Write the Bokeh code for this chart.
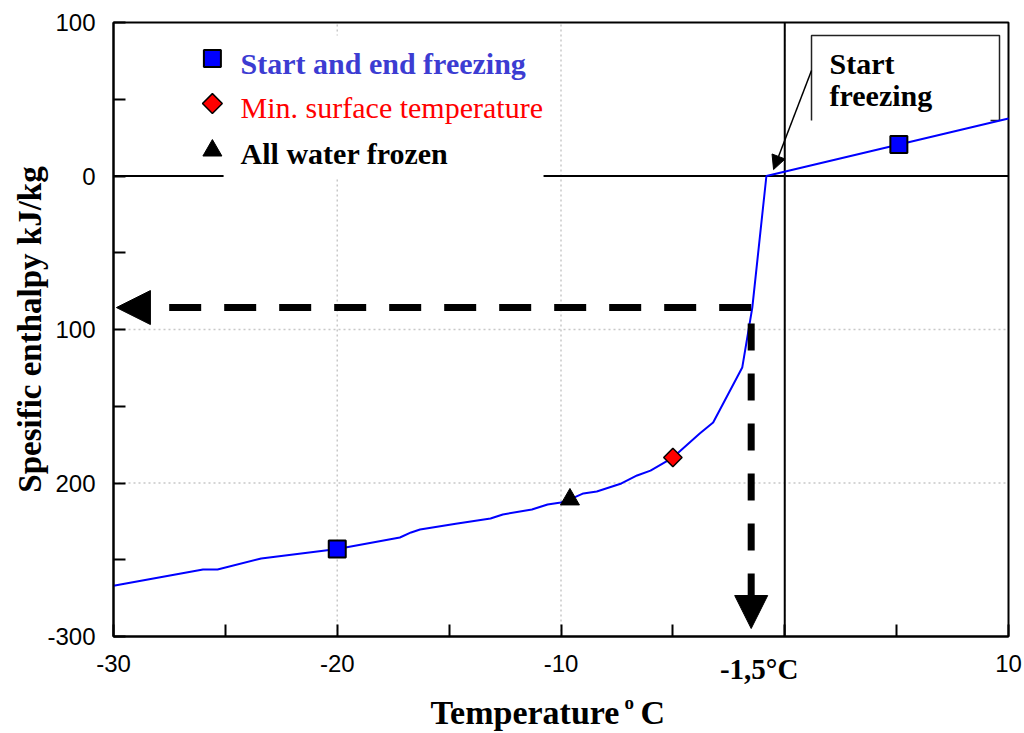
import math

from bokeh.embed import file_html
from bokeh.models import Arrow, FixedTicker, Label, LinearAxis, NormalHead
from bokeh.plotting import figure
from bokeh.resources import INLINE

# Enthalpy curve of the product during freezing
temperature = [-30.0, -26.0, -25.35, -23.4, -20.0, -17.2, -16.7, -16.3, -14.7, -13.15,
               -12.6, -11.3, -10.6, -10.0, -9.6, -9.0, -8.4, -7.3, -6.6, -6.0,
               -5.0, -3.8, -3.2, -1.9, -1.45, -0.82, 10.0]
enthalpy = [-267.0, -256.4, -256.4, -249.2, -243.0, -235.5, -232.2, -230.3, -226.5, -223.1,
            -220.5, -217.3, -214.0, -212.7, -210.7, -206.8, -205.5, -200.3, -195.1, -191.9,
            -183.4, -167.8, -160.6, -124.8, -85.7, 0.0, 37.5]

# Marked states
freeze_t = [-20.0, 5.1]
freeze_h = [-243.0, 20.5]
min_surface_t = [-5.0]
min_surface_h = [-183.4]
all_frozen_t = [-9.6]
all_frozen_h = [-210.7]

# Read-off construction
freeze_point_t = -1.5
freeze_point_h = -85.7

# Axes
x_lim = (-30, 10)
y_lim = (-300, 100)
x_ticks = [-30, -20, -10, 0, 10]
x_minor = [-25, -15, -5, 5]
x_tick_labels = ["-30", "-20", "-10", "", "10"]
y_ticks = [-300, -200, -100, 0, 100]
y_minor = [-250, -150, -50, 50]
y_tick_labels = ["-300", "200", "100", "0", "100"]

legend_labels = ["Start and end freezing", "Min. surface temperature", "All water frozen"]

SERIF = "Liberation Serif"
SANS = "Liberation Sans"

# Canvas and the pixel box the axes enclose
W, H = 1024, 733
BOX_L, BOX_R, BOX_T, BOX_B = 113, 1008, 22, 636
kx = (x_lim[1] - x_lim[0]) / (BOX_R - BOX_L)
ky = (y_lim[1] - y_lim[0]) / (BOX_B - BOX_T)
x_range = (x_lim[0] - BOX_L * kx, x_lim[1] + (W - BOX_R) * kx)
y_range = (y_lim[0] - (H - BOX_B) * ky, y_lim[1] + BOX_T * ky)

p = figure(width=W, height=H, x_range=x_range, y_range=y_range,
           x_axis_location=None, y_axis_location=None,
           output_backend="svg", toolbar_location=None)
p.min_border = 0
p.background_fill_color = "white"
p.border_fill_color = "white"
p.outline_line_color = None
p.grid.visible = False


def style_axis(ax):
    ax.axis_line_width = 2
    ax.axis_line_color = "black"
    ax.major_tick_in = 12
    ax.major_tick_out = 0
    ax.minor_tick_in = 12
    ax.minor_tick_out = 0
    ax.major_tick_line_width = 2
    ax.minor_tick_line_width = 2
    ax.major_tick_line_color = "black"
    ax.minor_tick_line_color = "black"
    ax.major_label_text_font = SANS
    ax.major_label_text_font_size = "24px"
    ax.major_label_text_color = "black"
    ax.major_label_standoff = 18


xaxis = LinearAxis(fixed_location=y_lim[0], bounds=x_lim,
                   ticker=FixedTicker(ticks=x_ticks, minor_ticks=x_minor),
                   major_label_overrides=dict(zip(x_ticks, x_tick_labels)))
yaxis = LinearAxis(fixed_location=x_lim[0], bounds=y_lim,
                   ticker=FixedTicker(ticks=y_ticks, minor_ticks=y_minor),
                   major_label_overrides=dict(zip(y_ticks, y_tick_labels)))
style_axis(xaxis)
style_axis(yaxis)
p.add_layout(xaxis, "below")
p.add_layout(yaxis, "left")

# Dotted grid inside the box
gx = [t for t in x_ticks if x_lim[0] < t < x_lim[1]]
gy = [t for t in y_ticks if y_lim[0] < t < y_lim[1]]
p.segment(x0=gx, y0=[y_lim[0]] * len(gx), x1=gx, y1=[y_lim[1]] * len(gx),
          line_color="#c8c8c8", line_dash="2 3", line_width=1.5)
p.segment(x0=[x_lim[0]] * len(gy), y0=gy, x1=[x_lim[1]] * len(gy), y1=gy,
          line_color="#c8c8c8", line_dash="2 3", line_width=1.5)

# Box around the plot area
p.quad(left=[x_lim[0]], right=[x_lim[1]], bottom=[y_lim[0]], top=[y_lim[1]],
       fill_color=None, line_color="black", line_width=2)

# Reference lines at 0 °C and 0 kJ/kg
p.segment(x0=[x_lim[0]], y0=[0], x1=[x_lim[1]], y1=[0], line_color="black", line_width=2)
p.segment(x0=[0], y0=[y_lim[0]], x1=[0], y1=[y_lim[1]], line_color="black", line_width=2)

# Legend panel background
p.quad(left=[-25.08], right=[-10.78], bottom=[-1.0], top=[91.5],
       fill_color="white", line_color=None)

# Callout box
p.quad(left=[1.196], right=[9.598], bottom=[36.2], top=[91.5],
       fill_color="white", line_color=None)
p.multi_line(xs=[[1.196, 1.196, 9.598, 9.598], [9.196, 9.598]],
             ys=[[36.2, 91.5, 91.5, 36.2], [36.2, 36.2]],
             line_color="#222222", line_width=1.5)

# Curve
p.line(temperature, enthalpy, line_color="#0000ff", line_width=2)

# Dashed read-off arrows
p.add_layout(Arrow(end=NormalHead(size=34, fill_color="black", line_color="black"),
                   x_start=freeze_point_t, y_start=freeze_point_h,
                   x_end=-29.87, y_end=freeze_point_h,
                   line_color="black", line_width=7, line_dash="32 23", line_cap="butt"))
p.add_layout(Arrow(end=NormalHead(size=33, fill_color="black", line_color="black"),
                   x_start=freeze_point_t, y_start=-96.1,
                   x_end=freeze_point_t, y_end=-294.8,
                   line_color="black", line_width=7, line_dash="27 23", line_cap="butt"))

# Callout arrow
p.add_layout(Arrow(end=NormalHead(size=14, fill_color="black", line_color="black"),
                   x_start=1.196, y_start=68.7, x_end=-0.50, y_end=4.2,
                   line_color="black", line_width=1.5))

# Markers on the curve
p.scatter(freeze_t, freeze_h, marker="square", size=17,
          fill_color="#0000ff", line_color="black", line_width=2)
p.scatter(min_surface_t, min_surface_h, marker="square", angle=math.pi / 4, size=13,
          fill_color="#ff0000", line_color="black", line_width=1.5)
p.scatter(all_frozen_t, all_frozen_h, marker="triangle", size=19,
          fill_color="black", line_color="black")

# Legend markers
p.scatter([-25.58], [76.5], marker="square", size=17,
          fill_color="#0000ff", line_color="black", line_width=2)
p.scatter([-25.58], [47.2], marker="square", angle=math.pi / 4, size=14,
          fill_color="#ff0000", line_color="black", line_width=1.5)
p.scatter([-25.58], [16.6], marker="triangle", size=19,
          fill_color="black", line_color="black")


def text(x, y, s, size, color="black", style="bold", **kw):
    # baseline at y; the renderer sits text about a third of an em low, so lift it
    px = float(size.rstrip("px"))
    lift = 0.34 * px * ky if kw.get("baseline", "alphabetic") == "alphabetic" else 0.0
    p.add_layout(Label(x=x, y=y + lift, text=s, text_font=SERIF, text_font_size=size,
                       text_font_style=style, text_color=color,
                       text_baseline=kw.pop("baseline", "alphabetic"),
                       text_align=kw.pop("align", "left"), **kw))


# Legend texts
text(-24.32, 66.8, legend_labels[0], "30px", color="#3c3cd2")
text(-24.32, 37.8, legend_labels[1], "30px", color="#ff0000", style="normal")
text(-24.32, 8.1, legend_labels[2], "30px")

# Callout text
text(2.0, 66.8, "Start", "30px")
text(2.0, 45.9, "freezing", "30px")

# Freezing point label under the axis
text(freeze_point_t, -327.4, "-1,5°C", "29px", align="center", x_offset=8)

# Axis titles
text(-15.83, -357.3, "Temperature", "34px")
text(-7.16, -347.5, "o", "19px")
text(-6.45, -357.3, "C", "34px")
text(-33.71, -100.0, "Spesific enthalpy kJ/kg", "33px", align="center",
     baseline="middle", angle=math.pi / 2)

open("out.html", "w").write(file_html(p, INLINE))
